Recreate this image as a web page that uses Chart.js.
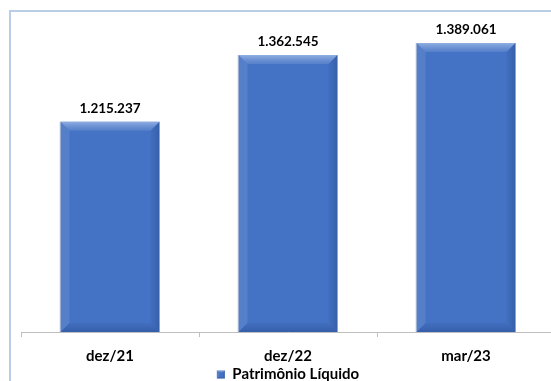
<!DOCTYPE html>
<html>
<head>
<meta charset="utf-8">
<script src="https://cdn.jsdelivr.net/npm/chart.js@4"></script>
<style>
  html, body { margin: 0; padding: 0; background: #ffffff; overflow: hidden; }
  #wrap { position: absolute; left: 0; top: 0; width: 570px; height: 392px; }
</style>
</head>
<body>
<div id="wrap"><canvas id="c" width="570" height="392"></canvas></div>
<script>
const categories = ['dez/21', 'dez/22', 'mar/23'];
const seriesName = 'Patrimônio Líquido';
const patrimonioLiquido = [1215237, 1362545, 1389061];
const yMin = 750000;
const yMax = 1440000;

const BAR_COLOR = '#4472C4';
const FONT = 'Lato, "Open Sans", "Liberation Sans", sans-serif';

function fmtBR(n) {
  return String(Math.round(n)).replace(/\B(?=(\d{3})+(?!\d))/g, '.');
}

function bevel(ctx, x0, y0, x1, y1, b) {
  let g;
  // top
  g = ctx.createLinearGradient(0, y0, 0, y0 + b);
  g.addColorStop(0, 'rgba(170,195,235,0.75)');
  g.addColorStop(1, 'rgba(120,155,215,0.35)');
  ctx.fillStyle = g;
  ctx.beginPath(); ctx.moveTo(x0, y0); ctx.lineTo(x1, y0); ctx.lineTo(x1 - b, y0 + b); ctx.lineTo(x0 + b, y0 + b); ctx.closePath(); ctx.fill();
  // left
  ctx.fillStyle = 'rgba(130,160,215,0.30)';
  ctx.beginPath(); ctx.moveTo(x0, y0); ctx.lineTo(x0 + b, y0 + b); ctx.lineTo(x0 + b, y1 - b); ctx.lineTo(x0, y1); ctx.closePath(); ctx.fill();
  // right
  g = ctx.createLinearGradient(x1 - b, 0, x1, 0);
  g.addColorStop(0, 'rgba(40,75,140,0.10)');
  g.addColorStop(1, 'rgba(30,60,120,0.35)');
  ctx.fillStyle = g;
  ctx.beginPath(); ctx.moveTo(x1, y0); ctx.lineTo(x1, y1); ctx.lineTo(x1 - b, y1 - b); ctx.lineTo(x1 - b, y0 + b); ctx.closePath(); ctx.fill();
  // bottom
  g = ctx.createLinearGradient(0, y1 - b, 0, y1);
  g.addColorStop(0, 'rgba(40,75,140,0.10)');
  g.addColorStop(1, 'rgba(25,55,115,0.35)');
  ctx.fillStyle = g;
  ctx.beginPath(); ctx.moveTo(x0, y1); ctx.lineTo(x0 + b, y1 - b); ctx.lineTo(x1 - b, y1 - b); ctx.lineTo(x1, y1); ctx.closePath(); ctx.fill();
}

const framePlugin = {
  id: 'frame',
  beforeDraw(chart) {
    const ctx = chart.ctx;
    ctx.save();
    ctx.strokeStyle = '#b9cde6';
    ctx.lineWidth = 2;
    ctx.beginPath();
    ctx.moveTo(10, chart.height + 10);
    ctx.lineTo(10, 11);
    ctx.lineTo(chart.width + 10, 11);
    ctx.stroke();
    ctx.restore();
  }
};

const bevelPlugin = {
  id: 'bevelBars',
  afterDatasetsDraw(chart) {
    const ctx = chart.ctx;
    const meta = chart.getDatasetMeta(0);
    const area = chart.chartArea;
    ctx.save();
    meta.data.forEach((bar, i) => {
      const p = bar.getProps(['x', 'y', 'base', 'width'], true);
      const x0 = p.x - p.width / 2, x1 = p.x + p.width / 2;
      const y0 = p.y, y1 = Math.min(p.base, area.bottom);
      ctx.fillStyle = 'rgba(150,150,150,0.35)';
      ctx.fillRect(x0 - 1, y0, 1, y1 - y0);
      bevel(ctx, x0, y0, x1, y1, 9);
      ctx.fillStyle = '#000000';
      ctx.font = 'bold 13.5px ' + FONT;
      ctx.textAlign = 'center';
      ctx.textBaseline = 'middle';
      ctx.fillText(fmtBR(patrimonioLiquido[i]), p.x, y0 - 13);
    });
    ctx.restore();
  }
};

const legendBoxPlugin = {
  id: 'legendBevel',
  afterDraw(chart) {
    const lg = chart.legend;
    if (!lg || !lg.legendHitBoxes || !lg.legendHitBoxes.length) return;
    const hb = lg.legendHitBoxes[0];
    const ctx = chart.ctx;
    const bw = lg.options.labels.boxWidth;
    const bh = lg.options.labels.boxHeight;
    const x0 = hb.left, y0 = hb.top + (hb.height - bh) / 2;
    ctx.save();
    bevel(ctx, x0, y0, x0 + bw, y0 + bh, 2);
    ctx.restore();
  }
};

new Chart(document.getElementById('c'), {
  type: 'bar',
  data: {
    labels: categories,
    datasets: [{
      label: seriesName,
      data: patrimonioLiquido,
      backgroundColor: BAR_COLOR,
      borderWidth: 0,
      categoryPercentage: 1.0,
      barPercentage: 0.556
    }]
  },
  options: {
    responsive: false,
    animation: false,
    devicePixelRatio: 1,
    layout: { padding: { left: 21, right: 15, top: 20, bottom: 0 } },
    plugins: {
      tooltip: { enabled: false },
      legend: {
        display: true,
        position: 'bottom',
        labels: {
          color: '#000000',
          font: { family: FONT, size: 15, weight: 'bold' },
          boxWidth: 8,
          boxHeight: 8,
          padding: 1,
          generateLabels(chart) {
            return [{ text: seriesName, fillStyle: BAR_COLOR, strokeStyle: BAR_COLOR, lineWidth: 0, datasetIndex: 0, hidden: false }];
          }
        }
      }
    },
    scales: {
      x: {
        offset: true,
        afterFit(scale) { scale.height -= 9; },
        grid: { display: true, drawOnChartArea: false, drawTicks: true, tickLength: 5, color: '#bfbfbf', offset: true },
        border: { display: true, color: '#bfbfbf', width: 1 },
        ticks: { color: '#000000', padding: 10, font: { family: FONT, size: 15, weight: 'bold' } }
      },
      y: {
        display: false,
        min: yMin,
        max: yMax
      }
    }
  },
  plugins: [framePlugin, bevelPlugin, legendBoxPlugin]
});
</script>
</body>
</html>
